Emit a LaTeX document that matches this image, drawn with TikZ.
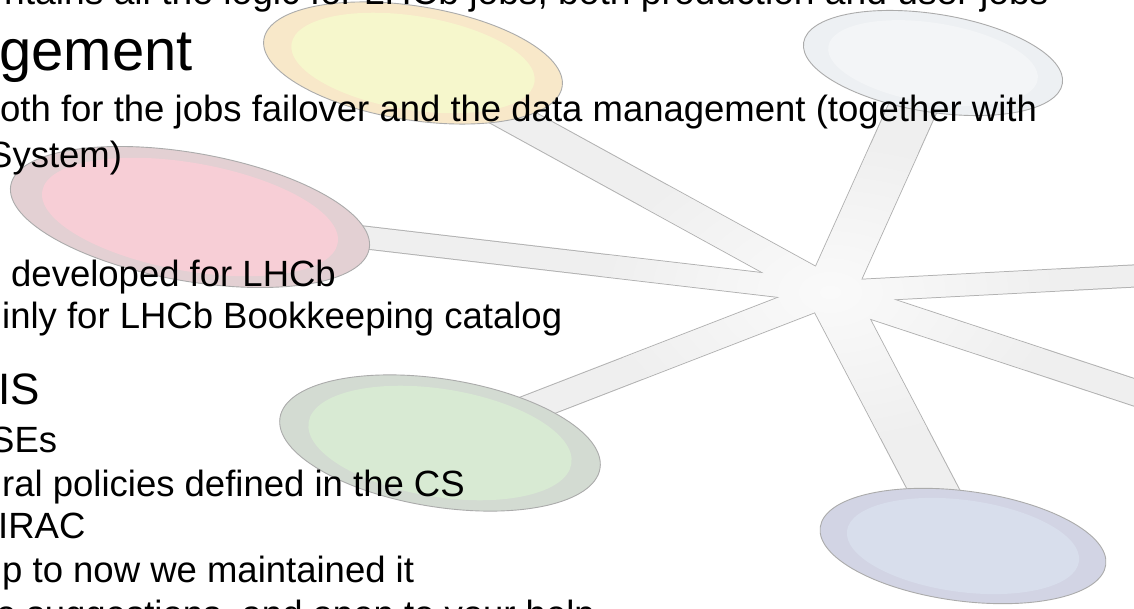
\documentclass[tikz,border=0pt]{standalone}
\usepackage{fontspec}
\setmainfont{Liberation Sans}
\usetikzlibrary{shapes.geometric,calc}
\pgfdeclarelayer{paper}
\pgfdeclarelayer{spokes}
\pgfsetlayers{paper,spokes,main}

\definecolor{spokefill}{HTML}{EFEFEF}
\definecolor{spokeglow}{HTML}{FAFAFA}
\definecolor{spokeline}{HTML}{B2B2B2}
\definecolor{discline}{HTML}{ABABAB}
\definecolor{yring}{HTML}{F8E8C9}
\definecolor{ycore}{HTML}{F6F7CC}
\definecolor{bring}{HTML}{EDF0F3}
\definecolor{bcore}{HTML}{F3F5F7}
\definecolor{rring}{HTML}{E3D0D3}
\definecolor{rcore}{HTML}{F7CED6}
\definecolor{gring}{HTML}{D3DBD2}
\definecolor{gcore}{HTML}{D8EAD3}
\definecolor{pring}{HTML}{D2D4E4}
\definecolor{pcore}{HTML}{D8DEEC}

\newcommand\armlist{ellY/19.86/-6.38, ellB/24.57/1.95, ellR/6.72/-10.11,
  ellG/-16.94/-7.72, ellP/-24.4/2.26, offR/3.11/10.42, offLR/-15.44/8.26}

\begin{document}
\begin{tikzpicture}[x=1pt,y=-1pt,
  disc/.style={ellipse, inner sep=0pt, draw=discline, line width=0.9pt},
  core/.style={ellipse, inner sep=0pt},
  spokeedge/.style={draw=spokeline, line width=2pt},
  body/.style={anchor=base west, inner sep=0pt, font=\fontsize{36.5}{44}\selectfont},
  head/.style={anchor=base west, inner sep=0pt}]

\useasboundingbox (0,0) rectangle (1134,609);
\begin{pgfonlayer}{paper}
  \fill[white] (0,0) rectangle (1134,609);
\end{pgfonlayer}

% hub of the star and the two arms that leave the frame
\coordinate (hub) at (830,292);
\coordinate (offR) at (1400,262);
\coordinate (offLR) at (1400,480);

% discs: outer ring with a lighter core
\node[disc, fill=yring, minimum width=302pt, minimum height=114pt, rotate=-9] (ellY) at (413,63) {};
\node[core, fill=ycore, minimum width=246pt, minimum height=94pt, rotate=-9] (ellYc) at (ellY.center) {};

\node[disc, fill=bring, minimum width=262pt, minimum height=98pt, rotate=-9] (ellB) at (933,63) {};
\node[core, fill=bcore, minimum width=212pt, minimum height=80pt, rotate=-9] (ellBc) at (ellB.center) {};

\node[disc, fill=rring, minimum width=364pt, minimum height=128pt, rotate=-10] (ellR) at (190,217) {};
\node[core, fill=rcore, minimum width=300pt, minimum height=108pt, rotate=-10] (ellRc) at (ellR.center) {};

\node[disc, fill=gring, minimum width=324pt, minimum height=128pt, rotate=-9] (ellG) at (440,443) {};
\node[core, fill=gcore, minimum width=266pt, minimum height=108pt, rotate=-9] (ellGc) at (ellG.center) {};

\node[disc, fill=pring, minimum width=288pt, minimum height=110pt, rotate=-7.5] (ellP) at (963,546) {};
\node[core, fill=pcore, minimum width=234pt, minimum height=92pt, rotate=-7.5] (ellPc) at (ellP.center) {};

% arms from the hub to every disc (half-width vectors follow the tilted plane)
\begin{pgfonlayer}{spokes}
  \foreach \e/\nx/\ny in \armlist {
    \draw[spokeedge] ($(hub)+(\nx,\ny)$) -- ($(\e.center)+(\nx,\ny)$);
    \draw[spokeedge] ($(hub)-(\nx,\ny)$) -- ($(\e.center)-(\nx,\ny)$);
  }
  \begin{scope}
    \path[clip] (hub) ellipse [x radius=20pt, y radius=9pt]
      foreach \e/\nx/\ny in \armlist {
        ($(hub)+(\nx,\ny)$) -- ($(\e.center)+(\nx,\ny)$)
        -- ($(\e.center)-(\nx,\ny)$) -- ($(hub)-(\nx,\ny)$) -- cycle
      };
    \fill[spokefill] (-100,-100) rectangle (1500,800);
    \shade[inner color=spokeglow, outer color=spokefill]
      (hub) ellipse [x radius=230pt, y radius=150pt];
  \end{scope}
\end{pgfonlayer}

% slide text
\node[body, font=\fontsize{37.2}{44}\selectfont] (t1) at (4,5) {ntains all the logic for LHCb jobs, both production and user jobs};
\node[head, font=\fontsize{58}{66}\selectfont] (h1) at (-1,71) {gement};
\node[body] (t2) at (0,122) {oth for the jobs failover and the data management (together with};
\node[body] (t3) at (-12,168) {System)};
\node[body] (t4) at (11,287) {developed for LHCb};
\node[body] (t5) at (2,328) {inly for LHCb Bookkeeping catalog};
\node[head, font=\fontsize{44}{52}\selectfont] (h2) at (-2,404) {IS};
\node[body] (t6) at (-10,452) {SEs};
\node[body] (t7) at (2,496) {ral policies defined in the CS};
\node[body] (t8) at (-2,538) {IRAC};
\node[body] (t9) at (2,582) {p to now we maintained it};
\node[body] (t10) at (-4,626) {e suggestions, and open to your help};
\end{tikzpicture}
\end{document}
